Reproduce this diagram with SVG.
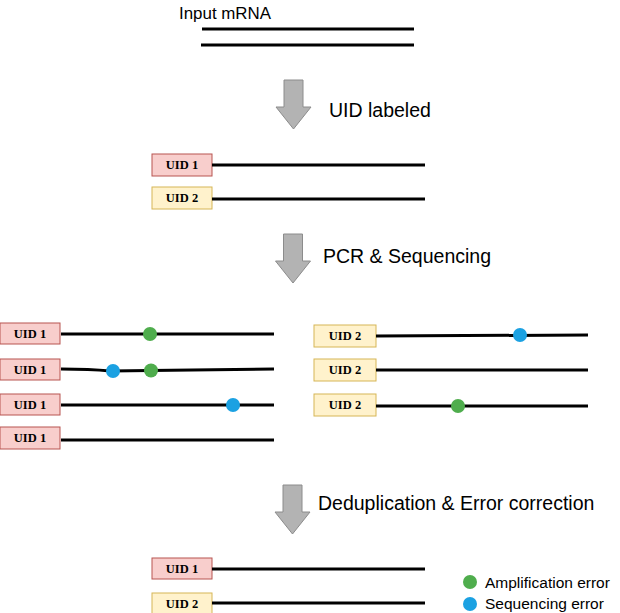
<svg xmlns="http://www.w3.org/2000/svg" width="620" height="613" viewBox="0 0 620 613">
<style>
.seq{stroke:#000;stroke-width:3;fill:none}
.u1 rect{fill:#f8cecc;stroke:#b85450;stroke-width:1}
.u2 rect{fill:#fff2cc;stroke:#d6b656;stroke-width:1}
.uid{font-family:"Liberation Serif",serif;font-weight:bold;font-size:12.5px;text-anchor:middle;fill:#000}
.lbl{font-family:"Liberation Sans",Arial,sans-serif;fill:#000}
.arr{fill:#b3b3b3;stroke:#8c8c8c;stroke-width:1}
.amp{fill:#4fad4d}
.sq{fill:#1ba1e2}
</style>
<defs>
<path id="dn" class="arr" d="M8,0 H27 V27 H35 L17.5,49 L0,27 H8 Z"/>
</defs>
<rect width="620" height="613" fill="#fff"/>
<g id="input">
<text class="lbl" x="179" y="18.5" font-size="16" textLength="92" lengthAdjust="spacingAndGlyphs">Input mRNA</text>
<line class="seq" x1="202" y1="29" x2="414" y2="29"/>
<line class="seq" x1="201" y1="45" x2="414" y2="45"/>
</g>
<g id="arrows">
<use href="#dn" x="276" y="80"/>
<use href="#dn" x="275.5" y="234"/>
<use href="#dn" x="275" y="485"/>
</g>
<g id="labels">
<text class="lbl" x="329" y="117" font-size="19.5">UID labeled</text>
<text class="lbl" x="323" y="263" font-size="19.5">PCR &amp; Sequencing</text>
<text class="lbl" x="318" y="509.5" font-size="19.5">Deduplication &amp; Error correction</text>
</g>
<g id="labeled">
<g class="u1"><rect x="152" y="154" width="60" height="22"/><text class="uid" x="182" y="169">UID 1</text></g>
<line class="seq" x1="212" y1="165" x2="425" y2="165"/>
<g class="u2"><rect x="152" y="187" width="60" height="22"/><text class="uid" x="182" y="202">UID 2</text></g>
<line class="seq" x1="212" y1="199" x2="425" y2="199"/>
</g>
<g id="reads-uid1">
<g class="u1"><rect x="0" y="323" width="60" height="21"/><text class="uid" x="30" y="338">UID 1</text></g>
<line class="seq" x1="61" y1="334" x2="274" y2="334"/>
<circle class="amp" cx="150" cy="334" r="7"/>
<g class="u1"><rect x="0" y="359" width="60" height="21"/><text class="uid" x="30" y="374">UID 1</text></g>
<path class="seq" d="M61,369 Q90,369 110,371 L150,370.5 L274,369"/>
<circle class="sq" cx="113" cy="371" r="7"/>
<circle class="amp" cx="151" cy="370.5" r="7"/>
<g class="u1"><rect x="0" y="394" width="60" height="21"/><text class="uid" x="30" y="409">UID 1</text></g>
<line class="seq" x1="61" y1="405" x2="274" y2="405"/>
<circle class="sq" cx="233" cy="405" r="7"/>
<g class="u1"><rect x="0" y="427" width="60" height="22"/><text class="uid" x="30" y="442">UID 1</text></g>
<line class="seq" x1="61" y1="440" x2="274" y2="440"/>
</g>
<g id="reads-uid2">
<g class="u2"><rect x="314" y="325" width="62" height="22"/><text class="uid" x="345" y="340">UID 2</text></g>
<line class="seq" x1="376" y1="336" x2="588" y2="335"/>
<circle class="sq" cx="520" cy="335" r="7"/>
<g class="u2"><rect x="314" y="359" width="62" height="22"/><text class="uid" x="345" y="374">UID 2</text></g>
<line class="seq" x1="376" y1="370" x2="588" y2="370"/>
<g class="u2"><rect x="314" y="394" width="62" height="22"/><text class="uid" x="345" y="409">UID 2</text></g>
<line class="seq" x1="376" y1="406" x2="588" y2="406"/>
<circle class="amp" cx="458" cy="406" r="7"/>
</g>
<g id="corrected">
<g class="u1"><rect x="152" y="558" width="60" height="21"/><text class="uid" x="182" y="573">UID 1</text></g>
<line class="seq" x1="212" y1="569" x2="425" y2="569"/>
<g class="u2"><rect x="152" y="593" width="60" height="22"/><text class="uid" x="182" y="608">UID 2</text></g>
<line class="seq" x1="212" y1="603" x2="425" y2="603"/>
</g>
<g id="legend">
<circle class="amp" cx="470" cy="582" r="7"/>
<text class="lbl" x="485" y="588" font-size="15.5">Amplification error</text>
<circle class="sq" cx="470" cy="604" r="7"/>
<text class="lbl" x="485" y="609" font-size="15.5">Sequencing error</text>
</g>
</svg>
